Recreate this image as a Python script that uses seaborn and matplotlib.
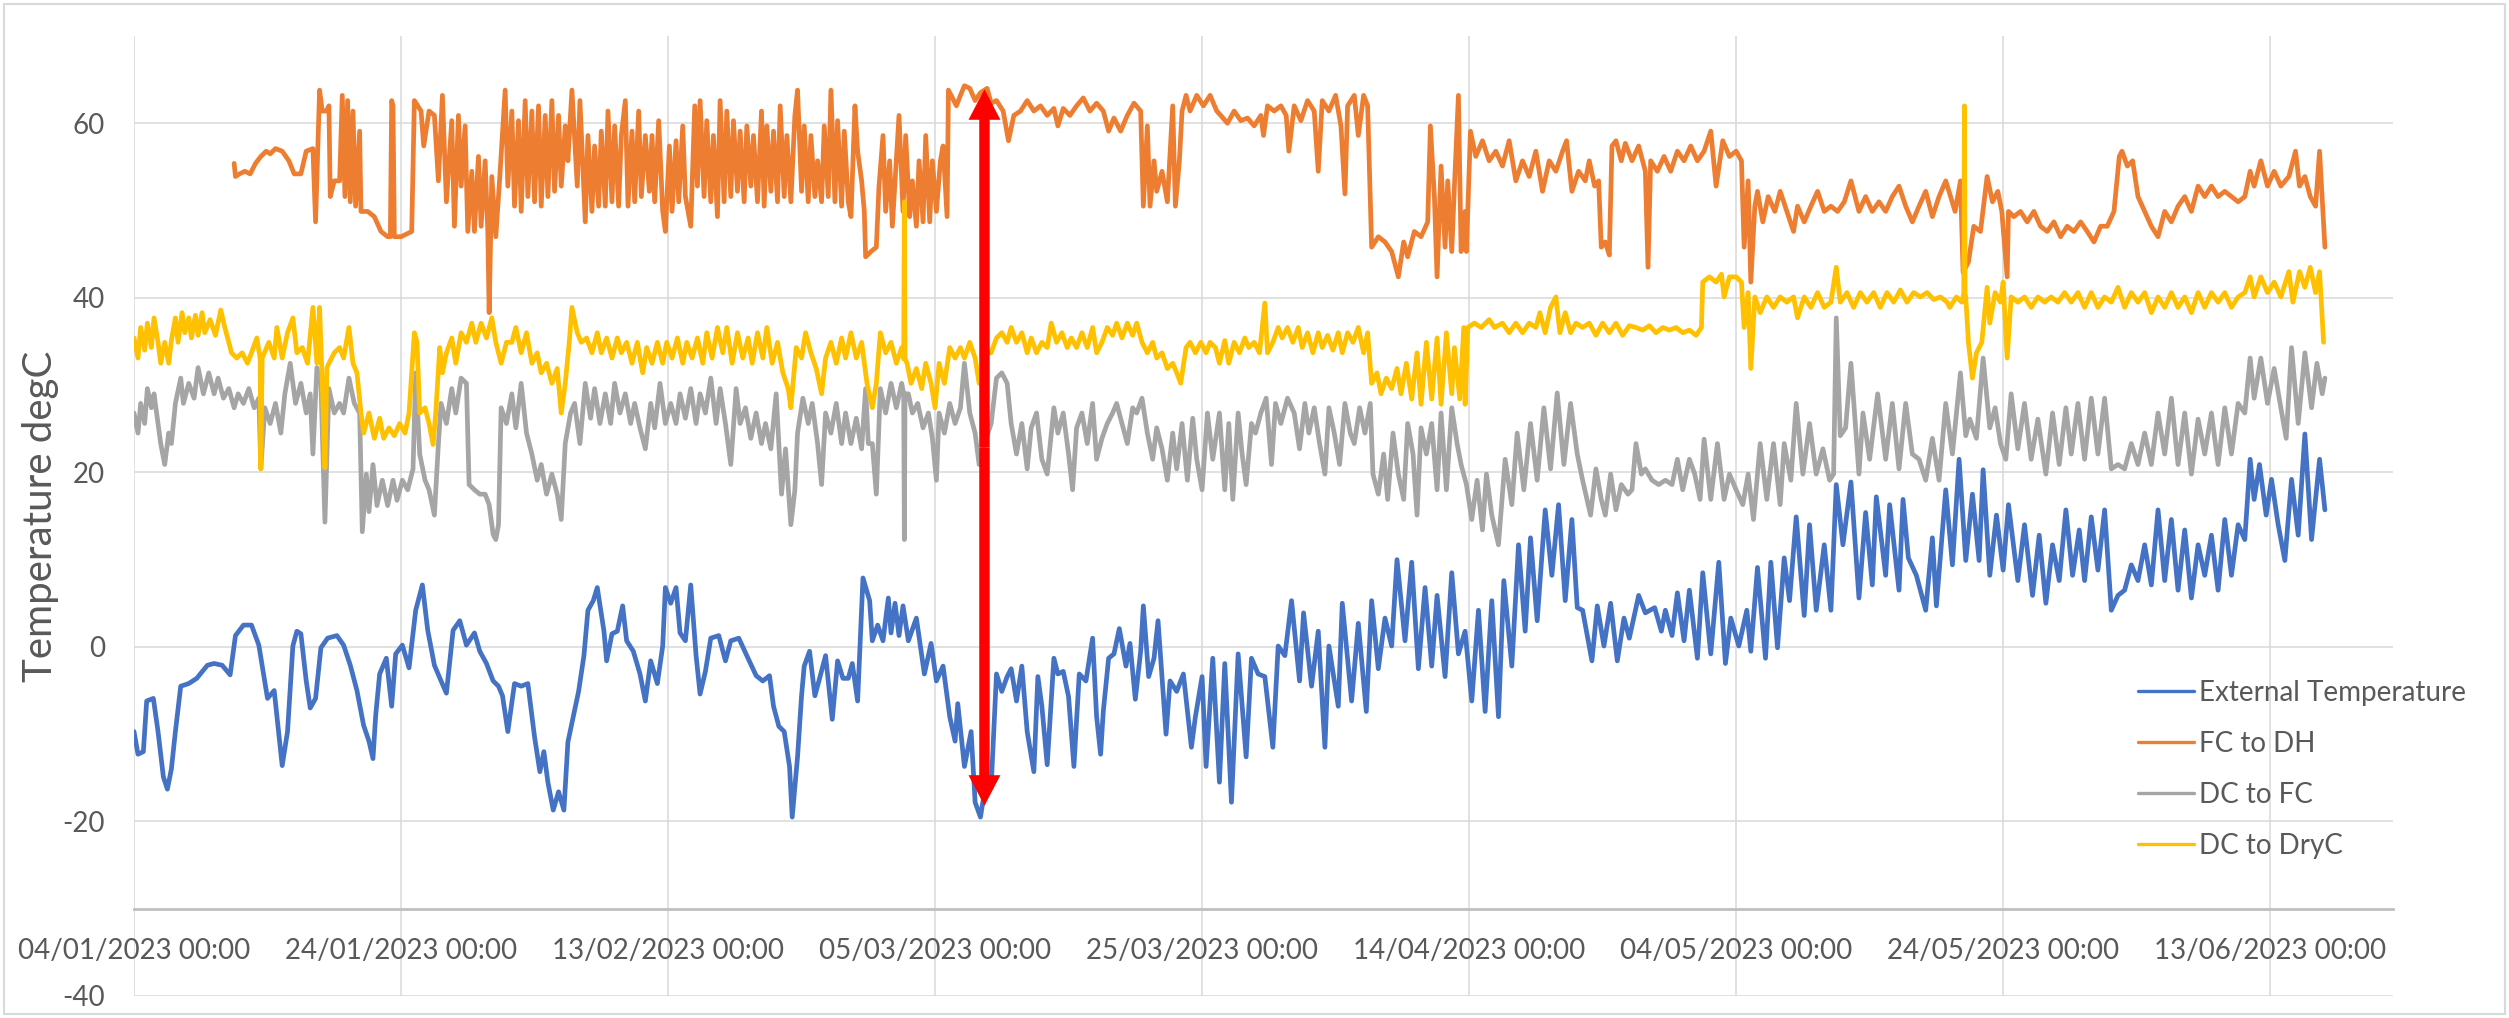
import numpy as np
import pandas as pd
import matplotlib
matplotlib.use("Agg")
import matplotlib.pyplot as plt
import matplotlib.dates as mdates
from matplotlib.patches import FancyArrowPatch, Rectangle
from matplotlib.lines import Line2D
import seaborn as sns

# ---------------- data (day offset from 04/01/2023 00:00, degC) ----------------
START = "2023-01-04 00:00"
TICK_DAYS = [0, 20, 40, 60, 80, 100, 120, 140, 160]
Y_TICKS = [-40, -20, 0, 20, 40, 60]
SERIES_NAMES = ["External Temperature", "FC to DH", "DC to FC", "DC to DryC"]
SERIES_COLORS = ["#4472C4", "#ED7D31", "#A5A5A5", "#FFC000"]

ext_pts = [(0.0,-9.7),(0.3,-12.3),(0.7,-12.0),(0.95,-6.2),(1.45,-5.9),(1.8,-9.7),(2.2,-14.9),(2.5,-16.3),(2.8,-14.0),(3.1,-9.7),(3.5,-4.5),(4.1,-4.2),(4.7,-3.6),(5.5,-2.1),(6.0,-1.9),(6.6,-2.1),(7.2,-3.2),(7.6,1.3),(8.2,2.5),(8.8,2.5),(9.35,0.2),(10.0,-5.9),(10.5,-5.0),(11.1,-13.6),(11.5,-9.7),(11.9,0.1),(12.2,1.8),(12.5,1.5),(12.9,-3.9),(13.2,-7.0),(13.6,-5.9),(14.0,-0.1),(14.5,1.0),(15.2,1.3),(15.7,0.2),(16.2,-2.1),(16.7,-5.0),(17.2,-9.0),(17.6,-10.8),(17.9,-12.8),(18.1,-7.9),(18.4,-3.1),(18.9,-1.3),(19.3,-6.8),(19.6,-0.8),(20.1,0.2),(20.6,-2.4),(21.1,4.2),(21.6,7.1),(22.0,1.9),(22.5,-2.1),(23.0,-3.9),(23.4,-5.3),(23.9,1.9),(24.4,3.0),(24.9,0.2),(25.5,1.6),(25.9,-0.5),(26.4,-1.9),(26.9,-3.9),
(27.3,-4.5),(27.6,-5.6),(28.0,-9.7),(28.5,-4.2),(29.0,-4.5),(29.5,-4.2),(30.0,-10.3),(30.4,-14.3),(30.7,-12.0),(31.0,-15.5),(31.4,-18.7),(31.8,-16.6),(32.2,-18.7),(32.5,-10.9),(32.9,-8.0),(33.3,-5.1),(33.7,-1.0),(34.0,4.2),(34.4,5.3),(34.7,6.8),(35.2,1.8),(35.4,-1.6),(35.8,1.5),(36.2,1.8),(36.6,4.7),(36.9,0.7),(37.4,-0.5),(37.9,-3.1),(38.3,-6.2),(38.7,-1.6),(39.2,-4.2),(39.6,0.1),(39.8,6.8),(40.2,5.0),(40.6,6.8),(40.9,1.6),(41.3,0.7),(41.7,7.1),(42.1,-1.0),(42.4,-5.4),(42.8,-2.8),(43.2,1.0),(43.8,1.3),(44.3,-1.6),(44.7,0.7),(45.3,1.0),(45.9,-1.0),(46.6,-3.3),(47.1,-3.9),(47.6,-3.3),(47.9,-6.8),(48.3,-9.1),(48.7,-9.7),(49.1,-13.7),(49.3,-19.5),(49.7,-12.6),(50.0,-5.6),(50.2,-2.2),(50.6,-0.5),(51.0,-5.6),(51.3,-3.9),(51.8,-1.0),(52.3,-8.3),(52.7,-1.6),(53.1,-3.6),(53.5,-3.6),(53.8,-1.9),(54.2,-6.2),(54.6,7.9),
(55.1,5.3),(55.3,0.7),(55.7,2.5),(56.1,0.7),(56.5,5.6),(56.7,1.6),(57.0,5.0),(57.3,1.3),(57.6,4.7),(58.0,0.7),(58.6,3.3),(59.2,-3.1),(59.7,0.4),(60.1,-3.9),(60.6,-2.2),(61.1,-8.0),(61.5,-10.8),(61.7,-6.5),(62.2,-13.7),(62.7,-9.7),(63.0,-17.8),(63.4,-19.5),(63.7,-16.6),(64.2,-16.1),(64.6,-3.1),(65.0,-5.1),(65.4,-3.4),(65.7,-2.5),(66.1,-6.2),(66.5,-2.2),(66.9,-9.7),(67.4,-14.3),(67.7,-3.4),(68.0,-6.8),(68.4,-13.5),(68.9,-1.3),(69.2,-3.1),(69.6,-2.8),(70.0,-5.7),(70.4,-13.7),(70.8,-3.1),(71.3,-3.9),(71.8,1.0),(72.1,-8.0),(72.4,-12.3),(72.6,-7.4),(73.0,-1.3),(73.4,-0.8),(73.8,2.1),(74.3,-2.2),(74.6,0.4),(75.0,-6.0),(75.4,-0.5),(75.6,4.7),(76.0,-3.4),(76.4,-1.3),(76.7,3.0),(77.3,-10.0),(77.6,-3.9),(78.1,-5.1),(78.6,-3.1),(79.2,-11.5),(79.5,-8.0),(80.0,-3.4),(80.3,-13.7),(80.8,-1.3),
(81.3,-15.5),(81.7,-1.9),(82.2,-17.8),(82.7,-0.8),(83.3,-12.6),(83.7,-1.3),(84.2,-3.1),(84.7,-3.4),(85.3,-11.5),(85.7,0.1),(86.2,-1.0),(86.7,5.3),(87.3,-3.9),(87.6,3.9),(88.2,-4.5),(88.7,1.8),(89.2,-11.5),(89.5,0.1),(90.2,-6.8),(90.5,5.0),(91.2,-6.2),(91.7,2.7),(92.3,-7.4),(92.7,5.3),(93.2,-2.5),(93.7,3.3),(94.2,0.1),(94.6,10.0),(95.2,0.7),(95.7,9.7),(96.2,-2.5),(96.7,6.8),(97.2,-2.2),(97.6,5.9),(98.2,-3.4),(98.7,8.5),(99.2,-0.8),(99.7,1.8),(100.2,-6.2),(100.7,4.2),(101.2,-7.4),(101.7,5.3),(102.2,-8.0),(102.6,7.6),(103.2,-2.2),(103.7,11.7),(104.2,1.8),(104.6,12.5),(105.1,3.0),(105.7,15.7),(106.2,8.2),(106.7,16.3),(107.2,5.3),(107.7,14.6),(108.1,4.5),
(108.5,4.2),(109.2,-1.6),(109.6,4.7),(110.1,0.1),(110.6,5.0),(111.1,-1.6),(111.6,3.3),(112.0,1.0),(112.7,5.9),(113.2,3.9),(113.9,4.5),(114.4,1.8),(114.7,4.2),(115.2,1.3),(115.6,6.2),(116.1,0.7),(116.5,6.5),(117.1,-1.3),(117.5,8.5),(118.1,-0.8),(118.7,9.7),(119.2,-1.9),(119.6,3.3),(120.2,0.1),(120.8,4.2),(121.1,-0.5),(121.6,9.1),(122.2,-1.3),(122.6,9.7),(123.1,-0.1),(123.6,10.2),(124.0,5.3),(124.5,14.9),(125.1,3.6),(125.5,14.0),(126.0,4.2),(126.6,11.7),(127.1,4.2),(127.5,18.6),(128.0,11.7),(128.6,18.9),(129.2,5.6),(129.7,15.4),(130.2,7.1),(130.5,17.2),(131.2,8.2),(131.5,16.3),(132.2,6.5),(132.5,16.9),(132.9,10.2),(133.5,8.2),(134.2,4.2),(134.7,12.5),(135.0,4.7),
(135.7,18.0),(136.2,9.4),(136.7,21.5),(137.2,9.9),(137.7,17.5),(138.2,9.9),(138.5,20.3),(139.0,8.2),(139.5,15.1),(140.0,8.8),(140.4,16.3),(141.1,7.6),(141.6,14.0),(142.2,5.9),(142.7,12.8),(143.2,5.0),(143.7,11.7),(144.2,7.6),(144.7,15.7),(145.2,8.2),(145.7,13.4),(146.1,7.6),(146.6,14.9),(147.1,8.8),(147.6,15.7),(148.1,4.2),(148.6,5.9),(149.1,6.5),(149.6,9.4),(150.1,7.6),(150.6,11.7),(151.1,7.1),(151.6,15.7),(152.1,7.6),(152.6,14.6),(153.1,6.5),(153.6,13.4),(154.1,5.6),(154.6,11.7),(155.1,8.2),(155.6,12.8),(156.1,6.5),(156.6,14.6),(157.1,8.2),(157.6,14.0),(158.1,12.3),(158.5,21.5),(158.8,16.9),(159.2,20.9),(159.7,15.1),(160.1,19.2),(160.6,14.0),(161.1,9.9),(161.6,19.2),(162.1,12.8),(162.6,24.4),(163.1,12.3),(163.7,21.5),(164.1,15.7)]

fc_dh_pts = [(7.5,55.4),(7.6,53.9),(7.9,54.2),(8.3,54.5),(8.7,54.2),(9.1,55.4),(9.5,56.2),(9.9,56.8),(10.2,56.5),(10.6,57.1),(11.1,56.8),(11.6,55.7),(12.0,54.2),(12.5,54.2),(12.9,56.8),(13.4,57.1),(13.6,48.7),(13.9,63.8),(14.1,61.4),(14.4,61.4),(14.6,62.0),(14.7,51.6),(15.0,53.4),(15.4,53.4),(15.6,63.2),(15.8,51.6),(16.0,62.6),(16.2,51.0),(16.4,61.4),(16.6,50.5),(16.9,59.1),(17.0,49.9),(17.5,49.9),(18.0,49.3),(18.5,47.6),(19.0,47.0),(19.2,47.0),(19.3,62.6),(19.4,62.0),(19.5,47.0),(20.0,47.0),(20.8,47.6),(21.0,62.6),(21.5,61.4),(21.7,57.4),(22.1,61.4),(22.5,60.9),(22.8,53.4),(23.1,63.2),(23.4,51.0),(23.8,60.3),(24.0,48.2),(24.3,60.9),(24.5,52.8),(24.8,59.7),(25.0,47.6),(25.3,54.5),(25.5,47.6),(25.8,56.2),(26.0,48.2),(26.3,55.7),(26.5,47.6),(26.6,38.3),(26.8,53.9),(27.1,47.0),
(27.4,53.9),(27.8,63.8),(28.0,52.8),(28.3,61.4),(28.5,50.5),(28.8,60.3),(29.0,49.9),(29.3,62.6),(29.5,51.6),(29.8,61.4),(30.0,51.0),(30.3,62.0),(30.5,50.5),(30.8,60.9),(31.0,51.6),(31.3,62.6),(31.5,52.2),(31.8,60.9),(32.0,52.8),(32.3,59.7),(32.5,55.7),(32.8,63.8),(33.2,52.8),(33.4,62.6),(33.8,48.7),(34.0,58.6),(34.3,49.9),(34.5,57.4),(34.8,50.5),(35.0,59.1),(35.3,50.5),(35.5,61.4),(35.8,51.0),(36.0,59.7),(36.3,50.5),(36.5,58.6),(36.8,62.6),(37.0,50.5),(37.3,59.1),(37.5,51.0),(37.8,61.4),(38.0,51.6),(38.3,58.6),(38.6,52.2),(38.8,58.6),(39.0,51.0),(39.3,60.3),(39.6,49.9),(39.8,47.6),(40.1,57.4),(40.3,49.9),(40.6,58.0),(40.8,51.0),(41.1,59.7),(41.3,51.6),(41.7,48.2),(42.0,62.0),(42.2,52.8),(42.4,62.6),(42.7,51.6),(42.9,60.3),(43.2,51.0),(43.4,58.6),(43.7,49.3),(43.9,62.6),(44.2,51.0),(44.4,61.4),(44.7,51.6),(44.9,60.3),(45.2,52.2),(45.4,59.1),(45.7,51.0),(45.9,59.7),(46.2,52.8),(46.4,58.6),(46.7,51.0),(47.0,61.4),(47.2,50.5),(47.4,59.7),(47.7,52.2),(47.9,59.1),(48.2,51.0),(48.4,62.0),(48.7,51.6),(48.9,58.6),(49.2,51.0),(49.5,60.9),(49.7,63.8),(50.0,52.2),(50.2,59.7),(50.5,51.0),(50.7,58.6),(51.0,51.6),(51.2,55.7),(51.5,51.0),(51.7,59.7),(52.0,51.6),(52.2,63.8),(52.5,51.0),(52.7,60.3),(53.0,50.5),(53.2,59.1),(53.5,51.0),(53.7,49.3),(54.0,62.0),(54.2,56.8),(54.5,53.4),(54.7,49.9),(54.8,44.7),
(55.2,45.3),(55.6,45.8),(55.8,52.8),(56.1,58.6),(56.3,49.9),(56.6,55.7),(56.8,48.2),(57.1,55.7),(57.3,60.9),(57.6,49.9),(57.8,58.6),(58.1,49.3),(58.3,53.4),(58.6,48.2),(58.8,55.7),(59.1,48.7),(59.3,58.6),(59.6,48.7),(59.8,55.7),(60.1,49.9),(60.4,55.7),(60.6,57.4),(60.9,49.3),(61.0,63.8),(61.3,62.9),(61.6,62.0),(61.9,63.2),(62.2,64.3),(62.6,64.0),(63.0,62.6),(63.4,63.5),(63.9,64.0),(64.2,62.3),(64.6,62.6),(65.1,61.4),(65.5,58.0),(65.9,60.9),(66.4,61.4),(66.9,62.6),(67.4,61.4),(67.9,62.0),(68.4,60.9),(68.9,61.7),(69.2,59.7),(69.6,61.7),(70.1,60.9),(70.6,62.0),(71.1,62.9),(71.6,61.4),(72.1,62.3),(72.6,61.4),(73.0,59.1),(73.4,60.6),(73.9,59.1),(74.4,60.9),(74.9,62.3),(75.4,61.4),(75.6,50.5),(75.9,59.7),(76.1,50.5),(76.4,55.7),(76.6,52.2),(77.0,54.5),(77.4,51.0),(77.8,62.0),(78.0,50.5),(78.3,55.7),(78.5,61.4),(78.8,63.2),(79.1,61.4),(79.6,63.2),(80.1,62.0),(80.6,63.2),
(81.1,61.4),(81.4,60.9),(81.9,60.0),(82.4,61.4),(82.9,60.3),(83.4,60.6),(83.9,59.7),(84.4,60.9),(84.6,58.6),(84.9,62.0),(85.4,61.4),(85.9,62.0),(86.3,60.9),(86.5,56.8),(86.9,62.0),(87.4,60.3),(87.9,62.6),(88.4,61.4),(88.7,54.5),(89.0,62.6),(89.5,61.4),(90.0,63.2),(90.4,59.7),(90.7,51.9),(90.9,62.0),(91.4,63.2),(91.7,58.6),(92.1,63.2),(92.4,62.0),(92.7,45.8),(93.2,47.0),(93.7,46.4),(94.2,45.3),(94.7,42.4),(95.1,46.4),(95.4,44.7),(95.9,47.6),(96.4,47.0),(96.9,48.7),(97.1,59.7),(97.4,51.6),(97.6,42.4),(97.9,55.1),(98.2,45.8),(98.4,53.4),(98.7,45.3),(98.9,52.8),(99.2,63.2),(99.4,45.3),(99.7,49.9),(99.8,45.3),(100.1,59.1),(100.5,56.2),(101.0,58.0),(101.5,55.7),(102.0,56.8),(102.5,55.1),(103.0,58.0),(103.5,53.4),(104.0,55.7),(104.5,53.9),(105.0,56.8),(105.5,52.2),(106.0,55.7),(106.5,54.5),(107.0,56.8),(107.3,58.0),(107.7,52.2),(108.2,54.5),(108.7,53.4),
(109.0,55.7),(109.4,52.8),(109.7,53.4),(109.9,45.8),(110.2,46.4),(110.5,44.9),(110.7,57.4),(111.0,58.0),(111.4,55.7),(111.7,57.7),(112.2,55.7),(112.7,57.4),(113.2,54.5),(113.4,43.5),(113.6,55.7),(114.1,54.5),(114.6,56.2),(115.1,54.5),(115.6,56.8),(116.1,55.7),(116.6,57.4),(117.1,55.7),(117.6,56.8),(118.1,59.1),(118.5,52.8),(119.0,58.0),(119.5,56.2),(120.0,56.8),(120.4,55.7),(120.6,45.8),(120.9,53.4),(121.1,41.8),(121.4,50.5),(121.6,52.2),(122.0,48.7),(122.4,51.6),(122.9,49.9),(123.3,52.2),(123.8,49.9),(124.3,47.6),(124.6,50.5),(125.1,48.7),(125.6,50.5),(126.1,52.2),(126.6,49.9),(127.1,50.5),(127.6,49.9),(128.1,51.0),(128.6,53.4),(129.2,49.9),(129.7,51.6),(130.2,49.9),(130.7,51.0),(131.2,49.9),(131.7,51.6),(132.2,52.8),(132.7,50.5),(133.2,48.7),(133.7,50.5),(134.2,52.2),(134.7,49.3),(135.2,51.6),(135.7,53.4),
(136.4,49.9),(136.8,53.4),(137.0,42.9),(137.4,44.1),(137.8,48.2),(138.3,47.6),(138.8,53.9),(139.2,51.0),(139.6,52.2),(139.9,49.9),(140.3,42.4),(140.4,49.9),(140.8,49.3),(141.3,49.9),(141.8,48.7),(142.3,49.9),(142.8,48.2),(143.3,47.6),(143.8,48.7),(144.3,47.0),(144.8,48.2),(145.3,47.6),(145.8,48.7),(146.3,47.6),(146.8,46.4),(147.3,48.2),(147.8,48.2),(148.3,49.9),(148.7,56.2),(148.9,56.8),(149.3,55.1),(149.7,55.7),(150.1,51.6),(150.6,49.9),(151.1,48.2),(151.6,47.0),(152.1,49.9),(152.6,48.7),(153.1,50.5),(153.6,51.6),(154.1,49.9),(154.6,52.8),(155.1,51.6),(155.6,52.8),(156.1,51.6),(156.6,52.2),(157.1,51.6),(157.6,51.0),(158.1,51.6),(158.5,54.5),(158.8,52.8),(159.3,55.7),(159.8,52.8),(160.3,54.5),(160.8,52.8),(161.4,53.9),(161.9,56.8),(162.2,52.8),(162.6,53.9),(163.0,51.6),(163.4,50.5),(163.7,56.8),(164.1,45.8)]

dc_fc_pts = [(0.0,26.8),(0.3,24.5),(0.5,27.9),(0.8,25.6),(1.0,29.6),(1.3,27.4),(1.5,29.0),(1.8,25.6),(2.0,23.3),(2.3,20.9),(2.6,24.5),(2.8,23.3),(3.1,27.9),(3.5,30.8),(3.7,27.9),(4.1,30.2),(4.5,28.5),(4.8,32.0),(5.2,29.0),(5.6,31.4),(6.0,29.0),(6.3,30.8),(6.7,28.5),(7.1,29.6),(7.5,27.4),(7.8,29.0),(8.2,27.9),(8.6,29.6),(9.0,27.4),(9.35,28.5),(9.5,20.4),(9.8,27.4),(10.2,25.6),(10.6,27.9),(11.0,24.5),(11.3,29.0),(11.7,32.5),(12.1,27.9),(12.5,30.2),(12.9,26.8),(13.2,29.0),(13.4,22.1),(13.7,32.0),(14.0,30.2),(14.3,14.3),(14.6,29.6),(15.0,26.8),(15.4,27.9),(15.7,26.8),(16.1,30.8),(16.5,27.9),(16.9,26.8),(17.1,13.2),(17.4,19.8),(17.6,15.5),(17.9,20.9),(18.2,16.2),(18.6,19.1),(19.0,16.2),(19.4,19.1),(19.7,16.8),(20.1,19.1),(20.5,18.0),(20.9,20.4),(21.1,31.4),(21.4,22.1),(21.8,19.1),(22.1,18.0),(22.5,15.1),(22.8,23.3),(23.0,27.9),(23.4,25.6),(23.8,29.6),(24.1,26.8),(24.5,30.8),(24.9,30.2),(25.1,18.6),(25.5,18.0),(25.9,17.5),(26.3,17.5),(26.6,16.3),(26.9,12.9),(27.1,12.3),(27.3,14.0),(27.5,27.4),
(27.9,25.6),(28.3,29.0),(28.6,25.1),(29.0,30.2),(29.4,24.5),(29.8,22.1),(30.2,19.1),(30.5,20.9),(30.9,17.5),(31.3,19.8),(31.7,17.5),(32.0,14.6),(32.3,23.3),(32.7,26.8),(33.0,27.9),(33.4,23.3),(33.8,30.2),(34.2,26.2),(34.5,29.6),(34.9,25.6),(35.3,29.0),(35.7,25.6),(36.0,30.2),(36.4,26.8),(36.8,29.0),(37.2,25.6),(37.5,27.9),(37.9,25.1),(38.3,22.7),(38.7,27.9),(39.0,25.1),(39.4,30.2),(39.8,25.6),(40.2,27.9),(40.6,25.6),(40.9,29.0),(41.3,26.2),(41.7,29.6),(42.1,25.6),(42.4,29.0),(42.8,26.8),(43.2,30.8),(43.6,25.6),(43.9,29.6),(44.3,25.6),(44.7,20.9),(45.1,29.6),(45.4,25.6),(45.8,27.4),(46.2,23.9),(46.6,26.8),(47.0,23.3),(47.3,25.6),(47.7,22.7),(48.1,29.0),(48.5,17.5),(48.8,22.7),(49.2,14.0),(49.5,18.0),(49.7,24.5),(50.1,28.5),(50.5,25.6),(50.8,27.9),(51.2,23.3),(51.5,18.6),(51.8,26.8),(52.2,24.5),(52.6,27.9),(53.0,23.3),(53.3,26.8),(53.7,23.3),(54.1,26.2),(54.5,22.7),(54.8,29.6),
(55.0,23.3),(55.3,23.3),(55.6,17.5),(55.9,29.6),(56.3,26.8),(56.7,30.2),(57.1,27.4),(57.5,30.2),(57.65,29.0),(57.7,12.3),(57.75,29.0),(58.0,29.0),(58.3,26.8),(58.7,27.9),(59.1,25.1),(59.5,26.8),(59.8,23.9),(60.1,19.1),(60.3,26.8),(60.7,24.5),(61.1,27.9),(61.5,25.6),(61.9,27.4),(62.2,32.5),(62.6,26.8),(63.0,24.5),(63.3,20.9),(63.7,23.3),(64.2,25.6),(64.6,30.8),(65.0,31.4),(65.4,30.2),(65.7,25.6),(66.1,22.1),(66.5,25.6),(66.9,20.4),(67.2,25.1),(67.6,26.8),(68.0,21.5),(68.4,19.8),(68.9,27.4),(69.2,24.5),(69.6,26.8),(70.0,22.1),(70.3,18.0),(70.6,25.1),(71.0,26.8),(71.4,23.3),(71.8,27.9),(72.1,21.5),(72.5,23.9),(72.9,25.6),(73.3,26.8),(73.6,27.9),(74.0,25.6),(74.4,23.3),(74.8,27.4),(75.1,26.8),(75.5,28.5),(75.9,24.5),(76.3,21.5),(76.6,25.1),(77.0,22.7),(77.4,19.1),(77.8,24.5),(78.1,20.4),(78.5,25.6),(78.9,19.1),(79.3,26.2),(79.6,21.5),(80.0,18.0),(80.4,26.8),(80.8,21.5),
(81.3,26.8),(81.7,18.0),(82.0,25.6),(82.3,16.9),(82.7,26.8),(83.0,22.1),(83.3,18.6),(83.7,25.6),(84.0,24.5),(84.4,26.8),(84.8,28.5),(85.2,20.9),(85.5,27.9),(85.9,25.6),(86.4,28.5),(86.9,26.8),(87.3,22.7),(87.7,27.9),(88.0,24.5),(88.4,27.4),(88.8,23.3),(89.2,19.8),(89.5,27.4),(89.9,24.5),(90.3,20.9),(90.7,27.9),(91.1,24.5),(91.4,23.3),(91.8,27.4),(92.2,24.5),(92.6,27.9),(92.8,19.8),(93.2,17.5),(93.6,22.1),(93.9,16.9),(94.3,24.5),(94.7,19.8),(95.1,16.9),(95.4,25.6),(95.8,22.1),(96.1,15.1),(96.4,25.1),(96.8,22.1),(97.2,25.6),(97.6,18.0),(97.9,26.8),(98.3,18.0),(98.7,27.4),(99.1,23.3),(99.4,20.9),(99.8,18.6),(100.2,14.6),(100.6,19.1),(101.0,13.4),(101.3,19.8),(101.7,15.1),(102.2,11.7),(102.7,21.5),(103.2,16.3),(103.6,24.5),(104.1,18.0),(104.6,25.6),(105.1,19.1),(105.6,27.4),(106.1,20.4),(106.6,29.1),(107.1,20.9),(107.6,27.9),(108.1,22.1),(108.5,19.1),
(109.1,15.1),(109.5,20.4),(109.9,16.9),(110.2,15.1),(110.6,19.8),(111.0,15.7),(111.4,18.6),(111.9,17.5),(112.2,18.0),(112.5,23.3),(112.9,19.8),(113.2,20.4),(113.7,19.1),(114.2,18.6),(114.7,19.1),(115.2,18.6),(115.6,21.5),(116.0,18.0),(116.5,21.5),(116.9,19.8),(117.3,16.9),(117.6,23.8),(118.1,16.9),(118.6,23.3),(119.1,16.9),(119.5,19.8),(120.0,18.0),(120.5,16.3),(120.9,19.8),(121.3,14.6),(121.8,23.3),(122.3,16.9),(122.8,23.3),(123.3,16.3),(123.6,23.3),(124.1,19.1),(124.5,27.9),(125.0,19.8),(125.5,25.6),(126.0,19.8),(126.5,22.7),(127.0,19.1),(127.3,19.8),(127.5,37.7),(127.8,24.2),(128.2,25.1),(128.6,32.5),(129.2,19.8),(129.5,26.8),(130.0,21.5),(130.6,29.0),(131.2,21.5),(131.7,27.9),(132.2,20.4),(132.7,27.9),(133.2,22.1),(133.7,21.5),(134.2,19.1),(134.7,23.9),(135.2,19.1),
(135.7,27.9),(136.2,22.1),(136.8,31.4),(137.2,24.2),(137.5,26.1),(138.0,23.9),(138.5,33.1),(139.0,25.1),(139.4,27.4),(139.8,23.3),(140.2,21.5),(140.6,29.0),(141.1,22.7),(141.6,27.9),(142.1,21.5),(142.6,26.1),(143.2,19.8),(143.7,26.8),(144.2,20.9),(144.7,27.4),(145.1,22.1),(145.6,27.9),(146.1,21.5),(146.6,28.5),(147.1,22.1),(147.6,28.5),(148.1,20.4),(148.6,20.9),(149.1,20.4),(149.6,23.3),(150.1,20.9),(150.6,24.5),(151.1,20.9),(151.6,26.8),(152.1,22.1),(152.6,28.5),(153.1,20.9),(153.6,26.8),(154.1,19.8),(154.6,26.1),(155.1,22.1),(155.6,26.8),(156.1,20.9),(156.6,27.4),(157.1,22.1),(157.6,27.9),(158.1,26.8),(158.5,33.1),(158.8,28.5),(159.3,33.1),(159.8,27.9),(160.3,31.9),(160.8,27.4),(161.2,23.9),(161.6,34.3),(162.1,25.6),(162.6,33.7),(163.1,27.4),(163.5,32.5),(163.9,29.0),(164.1,30.8)]

dc_dryc_pts = [(0.0,35.4),(0.3,33.1),(0.5,36.6),(0.8,34.0),(1.0,37.1),(1.3,34.3),(1.5,37.7),(1.8,34.9),(2.0,32.5),(2.3,34.9),(2.6,32.5),(2.8,35.1),(3.1,37.7),(3.3,34.9),(3.6,38.3),(3.8,36.0),(4.1,37.7),(4.3,35.4),(4.6,38.0),(4.8,35.7),(5.1,38.3),(5.3,36.0),(5.7,37.5),(6.1,35.7),(6.5,38.6),(6.8,36.6),(7.1,34.9),(7.3,33.7),(7.7,33.1),(8.1,33.7),(8.5,32.5),(8.8,33.7),(9.2,35.4),(9.45,33.0),(9.5,20.4),(9.6,33.1),(10.1,34.9),(10.5,33.1),(10.7,36.6),(11.1,33.1),(11.5,36.0),(11.9,37.7),(12.2,33.7),(12.6,34.3),(13.0,32.5),(13.4,38.9),(13.7,32.5),(13.9,38.9),(14.1,30.2),(14.3,20.5),(14.45,32.0),(14.6,32.5),(15.0,33.7),(15.4,34.3),(15.7,33.1),(16.1,36.6),(16.4,32.5),(16.7,31.4),(17.0,26.8),(17.2,24.5),(17.6,26.8),(18.0,23.9),(18.4,26.2),(18.7,23.9),(19.1,25.1),(19.5,24.2),(19.9,25.6),(20.3,24.5),(20.6,26.8),(21.0,36.0),(21.2,34.9),(21.4,26.8),(21.8,27.4),(22.1,25.6),(22.4,23.2),(22.6,26.8),(22.9,34.3),(23.1,31.4),(23.4,33.7),(23.8,35.4),(24.1,32.5),(24.5,36.0),(24.9,34.9),(25.3,37.1),(25.6,34.9),(26.0,37.1),(26.4,35.4),(26.8,37.7),(27.1,34.9),(27.5,32.5),
(27.9,34.9),(28.3,34.9),(28.6,36.6),(29.0,33.7),(29.4,36.0),(29.8,32.5),(30.2,33.7),(30.5,31.4),(30.9,32.5),(31.3,30.2),(31.7,31.9),(32.0,26.8),(32.3,30.2),(32.6,34.9),(32.8,38.9),(33.2,36.0),(33.5,34.9),(33.9,35.4),(34.3,33.7),(34.7,36.0),(35.0,33.7),(35.4,35.4),(35.8,33.1),(36.2,35.4),(36.5,33.7),(36.9,34.9),(37.3,32.5),(37.7,34.9),(38.1,31.4),(38.4,34.3),(38.8,32.5),(39.2,34.9),(39.6,32.5),(39.9,34.9),(40.3,33.1),(40.7,35.4),(41.1,32.5),(41.4,34.9),(41.8,33.1),(42.2,35.4),(42.6,32.5),(42.9,36.0),(43.3,33.1),(43.7,36.6),(44.1,33.7),(44.4,36.6),(44.8,32.5),(45.2,36.0),(45.6,33.1),(46.0,35.4),(46.3,32.5),(46.7,36.0),(47.1,33.1),(47.4,36.6),(47.8,32.5),(48.2,34.9),(48.6,31.4),(49.0,29.6),(49.2,27.4),(49.6,34.3),(50.0,33.1),(50.3,36.0),(50.7,33.7),(51.1,31.9),(51.5,29.0),(51.8,33.1),(52.2,34.9),(52.6,32.5),(53.0,35.4),(53.3,33.1),(53.7,36.0),(54.1,33.1),(54.5,34.9),(54.8,31.4),
(54.9,30.2),(55.3,27.4),(55.6,30.2),(55.9,36.0),(56.3,33.7),(56.7,34.9),(57.1,32.5),(57.5,34.3),(57.65,33.0),(57.7,51.0),(57.75,33.0),(57.9,32.5),(58.2,30.2),(58.6,31.9),(59.0,29.6),(59.3,32.5),(59.7,30.2),(60.0,27.4),(60.3,32.5),(60.7,30.2),(61.1,34.3),(61.5,33.1),(61.9,34.3),(62.2,33.1),(62.6,34.9),(63.0,33.1),(63.3,30.2),(63.7,33.7),(64.2,33.7),(64.6,35.4),(65.0,36.0),(65.4,34.9),(65.7,36.6),(66.1,34.9),(66.5,36.0),(66.9,33.7),(67.2,35.4),(67.6,33.7),(68.0,34.9),(68.4,34.3),(68.7,37.1),(69.1,34.9),(69.5,36.0),(69.9,34.3),(70.2,35.4),(70.6,34.3),(71.0,36.0),(71.4,34.3),(71.8,36.6),(72.1,33.7),(72.5,34.9),(72.9,36.6),(73.3,35.7),(73.6,37.1),(74.0,35.4),(74.4,37.1),(74.8,35.7),(75.1,37.1),(75.5,34.9),(75.9,33.7),(76.3,34.9),(76.6,33.1),(77.0,33.7),(77.4,31.9),(77.8,32.5),(78.1,31.4),(78.4,30.2),(78.8,34.3),(79.1,34.9),(79.5,33.7),(79.9,34.9),(80.3,33.7),(80.6,34.9),
(81.0,34.3),(81.3,32.5),(81.7,35.1),(82.0,32.5),(82.4,34.9),(82.8,33.7),(83.2,35.4),(83.5,34.3),(83.9,34.9),(84.3,33.7),(84.7,39.4),(84.9,33.7),(85.3,34.9),(85.7,36.6),(86.0,35.4),(86.4,36.6),(86.8,34.9),(87.2,36.6),(87.5,34.3),(87.9,36.0),(88.3,33.7),(88.7,36.0),(89.0,34.3),(89.4,35.7),(89.8,34.0),(90.2,36.0),(90.5,33.7),(90.9,36.0),(91.3,34.9),(91.7,36.6),(92.1,33.7),(92.4,36.0),(92.7,30.2),(93.1,31.4),(93.4,29.0),(93.8,30.8),(94.2,29.6),(94.6,31.9),(94.9,29.0),(95.3,32.5),(95.7,28.4),(96.1,33.7),(96.4,27.8),(96.8,34.9),(97.2,28.4),(97.6,35.4),(97.9,27.8),(98.3,36.0),(98.7,29.0),(98.9,34.3),(99.3,28.4),(99.6,36.6),(99.7,27.8),(99.9,36.6),(100.4,37.1),(100.9,36.6),(101.5,37.5),(101.9,36.6),(102.5,37.1),(103.0,36.0),(103.5,37.1),(104.0,36.0),(104.5,37.1),(105.0,36.6),(105.3,38.3),(105.7,36.0),(106.1,38.9),(106.5,40.1),(106.8,36.0),(107.2,38.3),(107.6,36.0),
(108.0,37.1),(108.5,36.6),(109.0,37.1),(109.5,35.7),(110.0,37.1),(110.5,36.0),(111.0,37.1),(111.5,35.7),(112.0,36.8),(112.5,36.6),(113.0,36.3),(113.5,36.8),(114.0,36.0),(114.5,36.6),(115.0,36.3),(115.5,36.6),(116.0,36.0),(116.5,36.3),(117.0,35.7),(117.4,36.6),(117.5,41.8),(118.0,42.4),(118.5,41.8),(118.9,42.7),(119.1,40.1),(119.5,42.4),(120.0,42.4),(120.4,41.8),(120.6,36.6),(120.9,40.6),(121.1,31.9),(121.4,40.1),(121.8,38.3),(122.3,40.1),(122.8,38.9),(123.3,40.1),(123.8,39.5),(124.3,40.1),(124.6,37.7),(125.1,40.1),(125.6,38.9),(126.1,40.6),(126.6,38.9),(127.1,39.5),(127.5,43.5),(127.8,39.5),(128.3,40.6),(128.8,38.9),(129.3,40.6),(129.8,39.5),(130.3,40.6),(130.8,38.9),(131.3,40.6),(131.8,39.5),(132.3,40.9),(132.8,39.5),(133.3,40.6),(133.8,40.1),(134.3,40.6),(134.8,39.8),(135.3,40.1),(135.8,39.5),
(136.0,38.9),(136.5,40.1),(136.9,39.5),(137.05,40.5),(137.1,62.0),(137.15,40.5),(137.2,40.1),(137.4,34.9),(137.7,30.8),(138.0,33.7),(138.4,34.9),(138.8,41.2),(139.0,37.1),(139.4,40.6),(139.8,39.5),(140.0,41.8),(140.3,33.1),(140.6,40.1),(141.1,39.5),(141.6,40.1),(142.1,38.9),(142.6,40.1),(143.1,39.5),(143.6,40.1),(144.1,39.5),(144.6,40.6),(145.1,39.5),(145.6,40.6),(146.1,38.9),(146.6,40.6),(147.1,38.9),(147.6,40.1),(148.1,39.5),(148.6,41.2),(149.1,38.9),(149.6,40.6),(150.1,39.5),(150.6,40.6),(151.1,38.3),(151.6,40.1),(152.1,38.9),(152.6,40.6),(153.1,38.9),(153.6,40.1),(154.1,38.3),(154.6,40.6),(155.1,38.9),(155.6,40.6),(156.1,39.5),(156.6,40.6),(157.1,38.9),(157.6,40.1),(158.1,40.6),(158.5,42.4),(158.8,40.1),(159.3,42.4),(159.8,40.6),(160.3,41.8),(160.8,40.1),(161.4,43.0),(161.7,39.5),(162.2,43.0),(162.6,41.2),(163.0,43.5),(163.4,40.6),(163.7,43.0),(164.0,34.9)]

# annotation arrow (day offset, low/high degC)
ARROW_DAY = 63.7
ARROW_LOW = -18.2
ARROW_HIGH = 63.9

# ---------------- styling ----------------
sns.set_theme(style="white")
plt.rcParams["font.family"] = ["Lato", "DejaVu Sans"]
plt.rcParams["axes.unicode_minus"] = False
TEXT_COLOR = "#595959"
GRID_COLOR = "#D9D9D9"
LINE_W = 3.4

W, H = 2509, 1018
fig = plt.figure(figsize=(W / 100, H / 100), dpi=100)
fig.patch.set_facecolor("white")
ax_l, ax_r, ax_t, ax_b = 134, 2393, 36, 996
ax = fig.add_axes([ax_l / W, 1 - ax_b / H, (ax_r - ax_l) / W, (ax_b - ax_t) / H])

base = pd.Timestamp(START)
all_pts = [ext_pts, fc_dh_pts, dc_fc_pts, dc_dryc_pts]
for name, color, pts in zip(SERIES_NAMES, SERIES_COLORS, all_pts):
    d = np.array([p[0] for p in pts])
    v = np.array([p[1] for p in pts])
    df = pd.DataFrame({"time": base + pd.to_timedelta(d, unit="D"), "temp": v})
    sns.lineplot(data=df, x="time", y="temp", ax=ax, color=color, linewidth=LINE_W,
                 estimator=None, sort=False, legend=False, zorder=3)

ax.set_xlim(base, base + pd.Timedelta(days=169.2))
ax.set_ylim(-40, 70)
ax.set_xticks([base + pd.Timedelta(days=t) for t in TICK_DAYS])
ax.xaxis.set_major_formatter(mdates.DateFormatter("%d/%m/%Y %H:%M"))
ax.set_yticks(Y_TICKS)
ax.set_xlabel("")
ax.set_ylabel("Temperature degC", fontsize=29, color=TEXT_COLOR)
ax.yaxis.label.set_va("center")
ax.yaxis.set_label_coords((41 - ax_l) / (ax_r - ax_l), 0.5)

ax.grid(True, color=GRID_COLOR, linewidth=1.1)
ax.set_axisbelow(True)
for s in ["top", "right", "left"]:
    ax.spines[s].set_visible(False)
ax.spines["bottom"].set_position(("data", -30))
ax.spines["bottom"].set_color("#BFBFBF")
ax.spines["bottom"].set_linewidth(2.0)
ax.spines["bottom"].set_zorder(2)
ax.tick_params(axis="x", length=0, pad=21, labelsize=20, labelcolor=TEXT_COLOR)
ax.tick_params(axis="y", length=0, pad=21, labelsize=20, labelcolor=TEXT_COLOR)

# red double arrow
xa = mdates.date2num(base + pd.Timedelta(days=ARROW_DAY))
ymid = (ARROW_LOW + ARROW_HIGH) / 2
for ytip in (ARROW_HIGH, ARROW_LOW):
    arr = FancyArrowPatch((xa, ymid), (xa, ytip), arrowstyle="simple,head_length=2.2,head_width=2.3,tail_width=0.75",
                          mutation_scale=10, color="#FF0000", lw=0, shrinkA=0, shrinkB=0, zorder=6)
    ax.add_patch(arr)

# legend
handles = [Line2D([], [], color=c, lw=2.4) for c in SERIES_COLORS]
leg = ax.legend(handles, SERIES_NAMES, loc="upper left", bbox_to_anchor=(2138 / W, 1 - 680 / H),
                bbox_transform=fig.transFigure, frameon=False, fontsize=20, handlelength=2.0,
                handletextpad=0.2, labelspacing=0.9, borderpad=0, borderaxespad=0)
for t in leg.get_texts():
    t.set_color(TEXT_COLOR)

# chart border
fig.patches.append(Rectangle((4 / W, 4 / H), 1 - 8 / W, 1 - 8 / H, transform=fig.transFigure,
                             fill=False, edgecolor=GRID_COLOR, linewidth=1.5))

fig.savefig("out.png", dpi=100)
